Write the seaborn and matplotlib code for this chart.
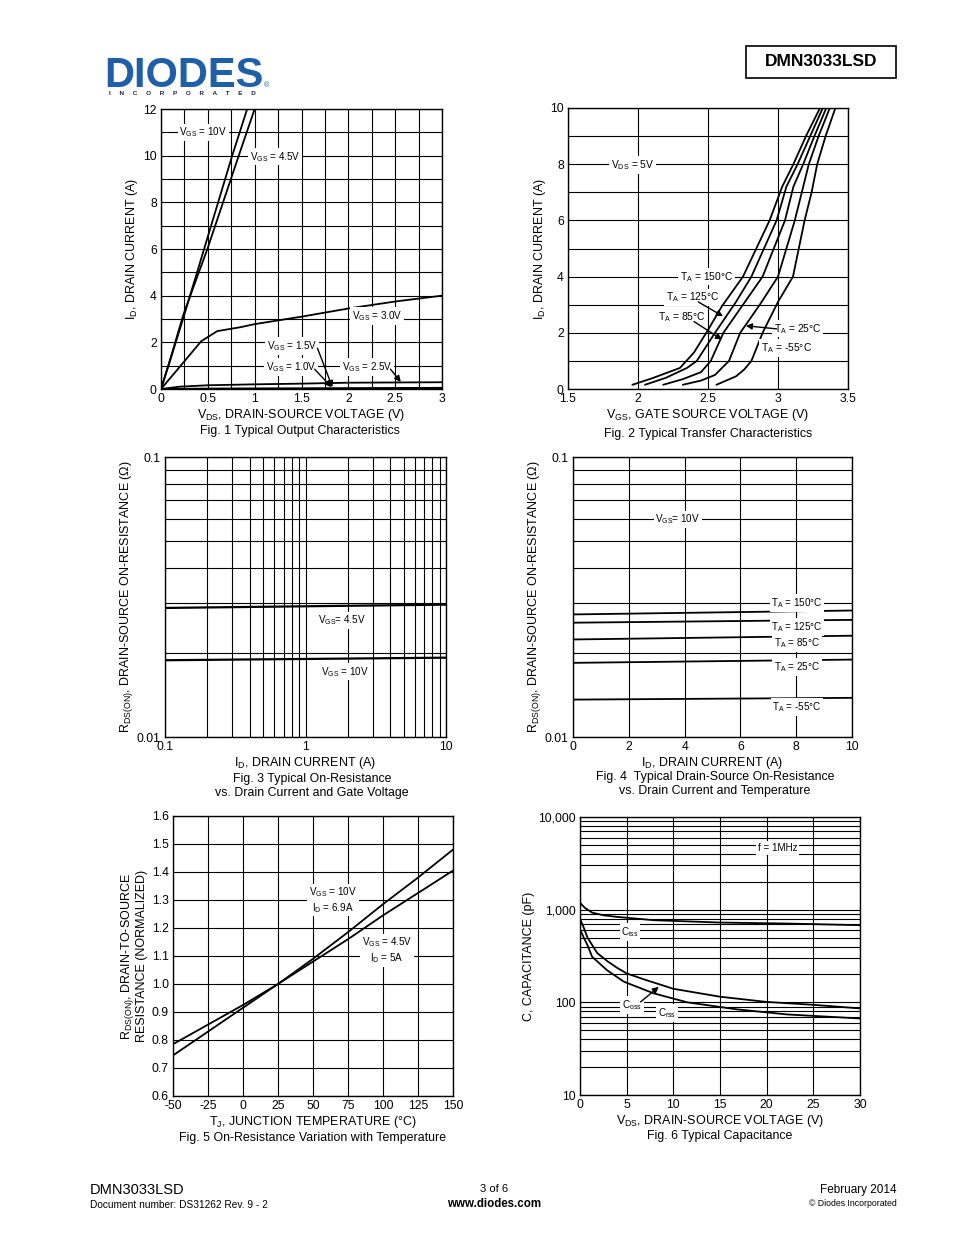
import matplotlib
matplotlib.use('Agg')
import matplotlib.pyplot as plt
import matplotlib.patches as patches
from matplotlib.ticker import MultipleLocator, FixedLocator, FuncFormatter, NullFormatter, LogLocator
import seaborn as sns

# ---------------- Fig 1 data: typical output characteristics ----------------
f1_vds_10v = [0, 0.1, 0.25, 0.46, 0.76, 0.92]
f1_id_10v = [0, 1.25, 3.2, 6.0, 10.0, 12.0]
f1_vds_45v = [0, 0.1, 0.24, 0.495, 0.83, 1.0]
f1_id_45v = [0, 1.3, 3.2, 6.0, 10.0, 12.0]
f1_vds_30v = [0, 0.2, 0.43, 0.6, 0.85, 1.0, 1.5, 2.0, 2.5, 3.0]
f1_id_30v = [0, 0.95, 2.05, 2.48, 2.65, 2.78, 3.1, 3.45, 3.75, 4.0]
f1_vds_25v = [0, 0.2, 0.5, 1.0, 1.5, 2.0, 2.5, 3.0]
f1_id_25v = [0, 0.1, 0.16, 0.2, 0.23, 0.27, 0.28, 0.29]
f1_vds_15v = [0, 0.5, 3.0]
f1_id_15v = [0, 0.02, 0.05]
f1_vds_10vg = [0, 3.0]
f1_id_10vg = [0, 0.01]

# ---------------- Fig 2 data: typical transfer characteristics ----------------
f2_vgs_150 = [1.96, 2.1, 2.3, 2.4, 2.5, 2.6, 2.75, 2.94, 3.03, 3.11, 3.2, 3.30]
f2_id_150 = [0.15, 0.38, 0.75, 1.3, 2.1, 2.95, 4.0, 6.0, 7.2, 8.0, 9.0, 10.0]
f2_vgs_125 = [2.05, 2.2, 2.35, 2.42, 2.55, 2.7, 2.81, 2.99, 3.06, 3.14, 3.23, 3.32]
f2_id_125 = [0.15, 0.4, 0.75, 1.0, 2.0, 3.1, 4.0, 6.0, 7.2, 8.0, 9.0, 10.0]
f2_vgs_85 = [2.18, 2.32, 2.45, 2.52, 2.61, 2.75, 2.89, 3.05, 3.11, 3.18, 3.26, 3.345]
f2_id_85 = [0.15, 0.35, 0.6, 1.0, 2.0, 3.0, 4.0, 6.0, 7.2, 8.0, 9.0, 10.0]
f2_vgs_25 = [2.32, 2.45, 2.55, 2.65, 2.73, 2.87, 3.0, 3.12, 3.17, 3.22, 3.29, 3.37]
f2_id_25 = [0.15, 0.3, 0.5, 1.0, 2.0, 3.0, 4.0, 6.0, 7.0, 8.0, 9.0, 10.0]
f2_vgs_m55 = [2.56, 2.7, 2.76, 2.81, 2.89, 3.0, 3.107, 3.19, 3.24, 3.28, 3.34, 3.41]
f2_id_m55 = [0.15, 0.45, 0.7, 1.0, 2.0, 3.1, 4.0, 6.0, 7.0, 8.0, 9.0, 10.0]

# ---------------- Fig 3 data: on-resistance vs drain current ----------------
f3_id = [0.1, 1, 10]
f3_r_45v = [0.0289, 0.0293, 0.0297]
f3_r_10v = [0.0188, 0.0190, 0.0192]

# ---------------- Fig 4 data: on-resistance vs drain current & temperature ----
f4_id = [0, 10]
f4_r_150 = [0.0274, 0.0283]
f4_r_125 = [0.0256, 0.0262]
f4_r_85 = [0.0223, 0.0230]
f4_r_25 = [0.0184, 0.0189]
f4_r_m55 = [0.0136, 0.0138]

# ---------------- Fig 5 data: normalized on-resistance vs temperature --------
f5_tj = [-50, -25, 0, 25, 50, 75, 100, 125, 150]
f5_r_10v = [0.745, 0.83, 0.915, 1.0, 1.09, 1.185, 1.285, 1.38, 1.48]
f5_r_45v = [0.785, 0.855, 0.925, 1.0, 1.08, 1.16, 1.245, 1.325, 1.405]

# ---------------- Fig 6 data: typical capacitance ----------------
f6_vds_ciss = [0, 0.5, 1.3, 2.5, 4, 7.9, 15, 22, 30]
f6_ciss = [1190, 1050, 930, 870, 835, 770, 726, 709, 680]
f6_vds_coss = [0, 0.4, 0.8, 1.85, 3, 4, 5, 7, 10, 15, 20, 25, 30]
f6_coss = [800, 640, 500, 340, 275, 235, 205, 175, 140, 115, 101, 94, 86]
f6_vds_crss = [0, 0.4, 0.8, 1.3, 2.9, 4.7, 7.9, 11.5, 16.8, 22.2, 30]
f6_crss = [615, 500, 414, 310, 222, 167, 125, 100, 84, 74, 67]

sns.set_theme(style='white')
plt.rcParams['font.family'] = ['Liberation Sans', 'DejaVu Sans']
plt.rcParams['mathtext.default'] = 'regular'
plt.rcParams['axes.edgecolor'] = 'black'
plt.rcParams['text.color'] = 'black'
plt.rcParams['axes.labelcolor'] = 'black'

W, H = 954, 1235
fig = plt.figure(figsize=(W / 100, H / 100), dpi=100)
fig.patch.set_facecolor('white')

TICK_FS = 8.7
LABEL_FS = 9
CAP_FS = 8.9
ANN_FS = 7.1
ANN2_FS = 7.4
LW = 1.3
XPAD = 1
YPAD = 1.5


def add_ax(x0, y0, x1, y1):
    return fig.add_axes([x0 / W, 1 - y1 / H, (x1 - x0) / W, (y1 - y0) / H])


def P(x, y):
    return (x / W, 1 - y / H)


def style(ax):
    ax.set_facecolor('white')
    for s in ax.spines.values():
        s.set_visible(True)
        s.set_color('black')
        s.set_linewidth(1.0)
    ax.tick_params(which='both', length=0, pad=3, labelsize=TICK_FS, colors='black')
    ax.grid(True, which='both', color='black', lw=0.8)
    ax.set_axisbelow(True)


def line(ax, x, y, lw=LW):
    sns.lineplot(x=x, y=y, ax=ax, color='black', lw=lw, sort=False, estimator=None)


gfmt = FuncFormatter(lambda v, p: f'{v:g}')
box = dict(facecolor='white', edgecolor='none', pad=1.2)


def lab(ax, x, y, s, fs=ANN_FS, ha='center'):
    ax.text(x, y, s, fontsize=fs, ha=ha, va='center', bbox=box, zorder=5)


def arrow(ax, tip, tail):
    ax.annotate('', xy=tip, xytext=tail,
                arrowprops=dict(arrowstyle='-|>', color='black', lw=1.0, mutation_scale=9,
                                shrinkA=0, shrinkB=0), zorder=6)


# ======================= Fig 1 =======================
ax1 = add_ax(161, 109, 442, 389)
style(ax1)
ax1.set_xlim(0, 3)
ax1.set_ylim(0, 12)
ax1.xaxis.set_major_locator(MultipleLocator(0.5))
ax1.xaxis.set_minor_locator(MultipleLocator(0.25))
ax1.yaxis.set_major_locator(MultipleLocator(2))
ax1.yaxis.set_minor_locator(MultipleLocator(1))
ax1.xaxis.set_major_formatter(gfmt)
ax1.yaxis.set_major_formatter(gfmt)
for xs, ys in [(f1_vds_10v, f1_id_10v), (f1_vds_45v, f1_id_45v), (f1_vds_30v, f1_id_30v),
               (f1_vds_25v, f1_id_25v), (f1_vds_15v, f1_id_15v), (f1_vds_10vg, f1_id_10vg)]:
    line(ax1, xs, ys)
lab(ax1, 0.45, 11.0, 'V$_{GS}$ = 10V')
lab(ax1, 1.22, 9.95, 'V$_{GS}$ = 4.5V')
lab(ax1, 2.31, 3.13, 'V$_{GS}$ = 3.0V')
lab(ax1, 1.40, 1.84, 'V$_{GS}$ = 1.5V')
lab(ax1, 1.39, 0.94, 'V$_{GS}$ = 1.0V')
lab(ax1, 2.20, 0.94, 'V$_{GS}$ = 2.5V')
arrow(ax1, (1.83, 0.08), (1.67, 1.75))
arrow(ax1, (1.82, 0.08), (1.64, 0.85))
arrow(ax1, (2.56, 0.30), (2.45, 0.85))
ax1.set_xlabel('V$_{DS}$, DRAIN-SOURCE VOLTAGE (V)', fontsize=LABEL_FS, labelpad=XPAD)
ax1.set_ylabel('I$_{D}$, DRAIN CURRENT (A)', fontsize=LABEL_FS, labelpad=YPAD + 1)
fig.text(*P(300, 431), 'Fig. 1 Typical Output Characteristics', fontsize=CAP_FS, ha='center', va='center')

# ======================= Fig 2 =======================
ax2 = add_ax(568, 108, 848, 389)
style(ax2)
ax2.set_xlim(1.5, 3.5)
ax2.set_ylim(0, 10)
ax2.xaxis.set_major_locator(MultipleLocator(0.5))
ax2.yaxis.set_major_locator(MultipleLocator(2))
ax2.yaxis.set_minor_locator(MultipleLocator(1))
ax2.xaxis.set_major_formatter(gfmt)
ax2.yaxis.set_major_formatter(gfmt)
for xs, ys in [(f2_vgs_150, f2_id_150), (f2_vgs_125, f2_id_125), (f2_vgs_85, f2_id_85),
               (f2_vgs_25, f2_id_25), (f2_vgs_m55, f2_id_m55)]:
    line(ax2, xs, ys)
lab(ax2, 1.96, 7.97, 'V$_{DS}$ = 5V', fs=ANN2_FS)
ax2.plot([2.6, 2.75], [4.0, 4.0], color='black', lw=0.8)
lab(ax2, 2.49, 3.99, 'T$_{A}$ = 150°C', fs=ANN2_FS)
lab(ax2, 2.39, 3.27, 'T$_{A}$ = 125°C', fs=ANN2_FS)
lab(ax2, 2.31, 2.56, 'T$_{A}$ = 85°C', fs=ANN2_FS)
ax2.plot([2.87, 2.99], [1.46, 1.46], color='black', lw=0.8)
lab(ax2, 3.14, 2.14, 'T$_{A}$ = 25°C', fs=ANN2_FS)
lab(ax2, 3.06, 1.46, 'T$_{A}$ = -55°C', fs=ANN2_FS)
arrow(ax2, (2.607, 2.59), (2.43, 3.1))
arrow(ax2, (2.60, 1.76), (2.40, 2.40))
arrow(ax2, (2.77, 2.25), (2.99, 2.14))
ax2.set_xlabel('V$_{GS}$, GATE SOURCE VOLTAGE (V)', fontsize=LABEL_FS, labelpad=XPAD)
ax2.set_ylabel('I$_{D}$, DRAIN CURRENT (A)', fontsize=LABEL_FS, labelpad=YPAD)
fig.text(*P(708, 434), 'Fig. 2 Typical Transfer Characteristics', fontsize=CAP_FS, ha='center', va='center')

# ======================= Fig 3 =======================
ax3 = add_ax(165, 457, 446, 737)
style(ax3)
ax3.set_xscale('log')
ax3.set_yscale('log')
ax3.set_xlim(0.1, 10)
ax3.set_ylim(0.01, 0.1)
ax3.xaxis.set_major_locator(FixedLocator([0.1, 1, 10]))
ax3.xaxis.set_minor_locator(LogLocator(base=10, subs=range(2, 10)))
ax3.yaxis.set_major_locator(FixedLocator([0.01, 0.1]))
ax3.yaxis.set_minor_locator(LogLocator(base=10, subs=range(2, 10)))
ax3.xaxis.set_major_formatter(gfmt)
ax3.yaxis.set_major_formatter(gfmt)
ax3.xaxis.set_minor_formatter(NullFormatter())
ax3.yaxis.set_minor_formatter(NullFormatter())
line(ax3, f3_id, f3_r_45v, lw=1.6)
line(ax3, f3_id, f3_r_10v, lw=1.6)
lab(ax3, 1.82, 0.0261, 'V$_{GS}$= 4.5V')
lab(ax3, 1.91, 0.0171, 'V$_{GS}$ = 10V')
ax3.set_xlabel('I$_{D}$, DRAIN CURRENT (A)', fontsize=LABEL_FS, labelpad=XPAD)
ax3.set_ylabel('R$_{DS(ON)}$, DRAIN-SOURCE ON-RESISTANCE (Ω)', fontsize=LABEL_FS, labelpad=YPAD)
fig.text(*P(312, 779), 'Fig. 3 Typical On-Resistance', fontsize=CAP_FS, ha='center', va='center')
fig.text(*P(312, 793), 'vs. Drain Current and Gate Voltage', fontsize=CAP_FS, ha='center', va='center')

# ======================= Fig 4 =======================
ax4 = add_ax(573, 457, 852, 737)
style(ax4)
ax4.set_yscale('log')
ax4.set_xlim(0, 10)
ax4.set_ylim(0.01, 0.1)
ax4.xaxis.set_major_locator(MultipleLocator(2))
ax4.yaxis.set_major_locator(FixedLocator([0.01, 0.1]))
ax4.yaxis.set_minor_locator(LogLocator(base=10, subs=range(2, 10)))
ax4.xaxis.set_major_formatter(gfmt)
ax4.yaxis.set_major_formatter(gfmt)
ax4.yaxis.set_minor_formatter(NullFormatter())
for ys in [f4_r_150, f4_r_125, f4_r_85, f4_r_25, f4_r_m55]:
    line(ax4, f4_id, ys)
lab(ax4, 3.76, 0.060, 'V$_{GS}$= 10V')
lab(ax4, 8.03, 0.0301, 'T$_{A}$ = 150°C')
lab(ax4, 8.03, 0.0247, 'T$_{A}$ = 125°C')
lab(ax4, 8.03, 0.02166, 'T$_{A}$ = 85°C')
lab(ax4, 8.03, 0.01778, 'T$_{A}$ = 25°C')
lab(ax4, 8.03, 0.0128, 'T$_{A}$ = -55°C')
ax4.set_xlabel('I$_{D}$, DRAIN CURRENT (A)', fontsize=LABEL_FS, labelpad=XPAD)
ax4.set_ylabel('R$_{DS(ON)}$, DRAIN-SOURCE ON-RESISTANCE (Ω)', fontsize=LABEL_FS, labelpad=YPAD)
fig.text(*P(715, 777), 'Fig. 4  Typical Drain-Source On-Resistance', fontsize=CAP_FS, ha='center', va='center')
fig.text(*P(715, 791), 'vs. Drain Current and Temperature', fontsize=CAP_FS, ha='center', va='center')

# ======================= Fig 5 =======================
ax5 = add_ax(173, 816, 453, 1096)
style(ax5)
ax5.set_xlim(-50, 150)
ax5.set_ylim(0.6, 1.6)
ax5.xaxis.set_major_locator(MultipleLocator(25))
ax5.yaxis.set_major_locator(MultipleLocator(0.1))
ax5.xaxis.set_major_formatter(gfmt)
ax5.yaxis.set_major_formatter(FuncFormatter(lambda v, p: f'{v:.1f}'))
line(ax5, f5_tj, f5_r_10v)
line(ax5, f5_tj, f5_r_45v)
lab(ax5, 64.3, 1.30, 'V$_{GS}$ = 10V\nI$_{D}$ = 6.9A')
lab(ax5, 102.9, 1.121, 'V$_{GS}$ = 4.5V\nI$_{D}$ = 5A')
ax5.set_xlabel('T$_{J}$, JUNCTION TEMPERATURE (°C)', fontsize=LABEL_FS, labelpad=XPAD)
ax5.set_ylabel('R$_{DS(ON)}$, DRAIN-TO-SOURCE\nRESISTANCE (NORMALIZED)', fontsize=LABEL_FS, labelpad=3,
               linespacing=1.0)
fig.text(*P(313, 1138), 'Fig. 5 On-Resistance Variation with Temperature', fontsize=CAP_FS, ha='center', va='center')

# ======================= Fig 6 =======================
ax6 = add_ax(580, 817, 860, 1095)
style(ax6)
ax6.set_yscale('log')
ax6.set_xlim(0, 30)
ax6.set_ylim(10, 10000)
ax6.xaxis.set_major_locator(MultipleLocator(5))
ax6.yaxis.set_major_locator(FixedLocator([10, 100, 1000, 10000]))
ax6.yaxis.set_minor_locator(LogLocator(base=10, subs=range(2, 10)))
ax6.xaxis.set_major_formatter(gfmt)
ax6.yaxis.set_major_formatter(FuncFormatter(lambda v, p: f'{int(round(v)):,}'))
ax6.yaxis.set_minor_formatter(NullFormatter())
line(ax6, f6_vds_ciss, f6_ciss)
line(ax6, f6_vds_coss, f6_coss)
line(ax6, f6_vds_crss, f6_crss)
lab(ax6, 21.2, 4627, 'f = 1MHz')
lab(ax6, 5.36, 574, 'C$_{iss}$')
lab(ax6, 5.57, 93.5, 'C$_{oss}$')
lab(ax6, 9.32, 76.7, 'C$_{rss}$')
arrow(ax6, (8.44, 147), (6.49, 101))
ax6.set_xlabel('V$_{DS}$, DRAIN-SOURCE VOLTAGE (V)', fontsize=LABEL_FS, labelpad=XPAD)
ax6.set_ylabel('C, CAPACITANCE (pF)', fontsize=LABEL_FS, labelpad=YPAD + 1)
fig.text(*P(720, 1136), 'Fig. 6 Typical Capacitance', fontsize=CAP_FS, ha='center', va='center')

# ======================= Header =======================
fig.text(*P(104, 87), 'DIODES', fontsize=30, fontweight='bold', color='#1f5ea8', ha='left', va='baseline')
fig.add_artist(plt.Line2D([105 / W, 262 / W], [1 - 71 / H, 1 - 71 / H], color='white', lw=1.3))
fig.text(*P(267, 86), '®', fontsize=5, color='#1f5ea8', ha='center', va='center')
fig.text(*P(182, 93.5), '     '.join('INCORPORATED'), fontsize=4.6, fontweight='bold',
         color='#222244', ha='center', va='center')
fig.add_artist(patches.Rectangle(P(746, 78), 150 / W, 32 / H, transform=fig.transFigure,
                                 facecolor='white', edgecolor='black', lw=1.2))
fig.text(*P(821, 62), 'DMN3033LSD', fontsize=12.5, fontweight='bold', ha='center', va='center')

# ======================= Footer =======================
fig.text(*P(90, 1190), 'DMN3033LSD', fontsize=10.5, ha='left', va='center')
fig.text(*P(90, 1205), 'Document number: DS31262 Rev. 9 - 2', fontsize=7.3, ha='left', va='center')
fig.text(*P(494, 1189), '3 of 6', fontsize=8, ha='center', va='center')
fig.text(*P(494, 1204), 'www.diodes.com', fontsize=8.3, fontweight='bold', ha='center', va='center')
fig.text(*P(897, 1190), 'February 2014', fontsize=8.5, ha='right', va='center')
fig.text(*P(897, 1204), '© Diodes Incorporated', fontsize=6.3, ha='right', va='center')

fig.savefig('out.png', dpi=100, facecolor='white')
